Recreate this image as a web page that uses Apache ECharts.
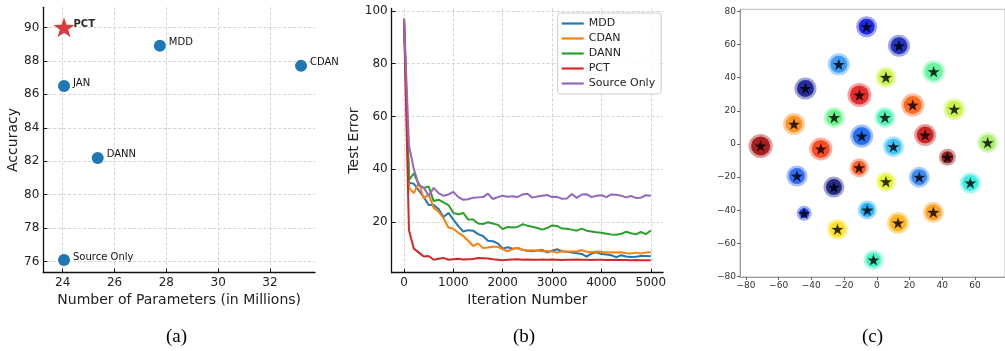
<!DOCTYPE html>
<html>
<head>
<meta charset="utf-8">
<script src="https://cdn.jsdelivr.net/npm/echarts@6/dist/echarts.min.js"></script>
<style>
  html, body { margin: 0; padding: 0; background: #fff; }
  #chart { width: 1005px; height: 351px; }
</style>
</head>
<body>
<div id="chart"></div>
<script>
// (a) accuracy vs model size
const methodNames = ['PCT', 'MDD', 'CDAN', 'JAN', 'DANN', 'Source Only'];
const paramsMillions = [24.05, 27.75, 33.2, 24.05, 25.35, 24.05];
const accuracy = [90.0, 88.9, 87.7, 86.5, 82.2, 76.1];
const paramTicks = [24, 26, 28, 30, 32];
const accTicks = [76, 78, 80, 82, 84, 86, 88, 90];

// (b) test error curves
const iterations = [0, 100, 200, 300, 400, 500, 600, 700, 800, 900, 1000, 1100, 1200, 1300, 1400, 1500,
  1600, 1700, 1800, 1900, 2000, 2100, 2200, 2300, 2400, 2500, 2600, 2700, 2800, 2900, 3000, 3100, 3200,
  3300, 3400, 3500, 3600, 3700, 3800, 3900, 4000, 4100, 4200, 4300, 4400, 4500, 4600, 4700, 4800, 4900, 5000];
const errMDD = [97, 35, 34.5, 32, 29.5, 26.5, 26.5, 25, 22, 23.5, 21, 18.5, 16.5, 17, 16.8, 15.5, 14.8, 13,
  12.8, 12, 10, 10.5, 10, 10.2, 9.6, 9.2, 9, 9.3, 9.5, 8.6, 9.2, 9.8, 9, 8.8, 8.5, 8.3, 8, 7, 8.2, 8.6, 8,
  7.8, 7.5, 6.8, 7.5, 7, 6.8, 6.9, 7.2, 7.2, 7.1];
const errCDAN = [97, 33, 31, 35, 29, 30.5, 25.5, 24, 21.5, 18, 17.5, 16, 14.8, 13, 11, 12, 10.2, 10.4, 10.7,
  10.7, 9.8, 9, 9.8, 10.4, 9.6, 9.3, 9.4, 9.2, 9, 9.1, 8.9, 8.5, 9, 8.8, 8.9, 8.9, 9.5, 8.8, 8.6, 8.9, 8.8,
  8.5, 8.6, 8.5, 8.6, 8.3, 8.2, 8.5, 8.2, 8.5, 8.6];
const errDANN = [97, 36, 38.5, 34, 33, 33.5, 28, 28.5, 27.5, 26.5, 23.5, 23, 23.5, 21, 21, 19.5, 19.3, 20,
  19.5, 19, 17.4, 18.2, 18, 18.2, 19.2, 18.7, 18.3, 17.8, 17.2, 17.8, 18.8, 18.6, 17.6, 17.5, 17.2, 16.8,
  17.6, 16.8, 16.5, 16.2, 16, 15.6, 15.4, 15.3, 15.6, 16.4, 15.8, 15.4, 16.3, 15.5, 16.8];
const errPCT = [96, 17, 10, 8.5, 7, 7.2, 5.8, 6.2, 6.5, 5.8, 6, 6.2, 5.9, 6, 6.1, 6.5, 6.4, 6.3, 6, 5.8, 5.6,
  5.8, 5.9, 6, 5.8, 5.9, 5.8, 5.8, 5.9, 5.8, 5.9, 5.8, 5.7, 5.8, 5.8, 5.9, 5.8, 5.8, 5.7, 5.8, 5.8, 5.7,
  5.7, 5.8, 5.7, 5.7, 5.6, 5.7, 5.6, 5.6, 5.6];
const errSource = [97, 49, 40, 34, 33, 30, 33, 31, 30, 30.5, 31.5, 29.5, 28.5, 28.7, 29.3, 29.4, 29.5, 30.8,
  28.8, 29.5, 30, 29.6, 29.8, 29.5, 30.5, 30.8, 29.3, 29.7, 30, 30.3, 29.5, 29.6, 28.9, 29, 30.7, 29.2,
  30.5, 30.6, 29.5, 30, 30.2, 29.5, 30.5, 30.4, 30, 29.4, 29.9, 29.2, 29.3, 30.2, 30];
const iterTicks = [0, 1000, 2000, 3000, 4000, 5000];
const errTicks = [20, 40, 60, 80, 100];

// (c) t-SNE cluster centres
const clusterX = [-6.2, 13.6, -23.2, 5.6, 34.8, -43.6, -10.6, 22, 47.4, -50.6, -26, 5, 29.6, -71, -34.2,
  -9.2, 10.2, 67.8, 43.2, -48.8, -26.2, -10.8, 5.6, 26, 57.2, -44.4, -5.8, 13, 34.6, -24, -2];
const clusterY = [70.7, 59.2, 48, 40.2, 43.6, 33.5, 29.5, 23.5, 21, 12, 16, 16, 5.4, -1.2, -3, 4.8, -1.6,
  0.8, -8, -19.3, -26, -14.3, -22.7, -20, -23.5, -41.8, -39.8, -47.6, -41.2, -51.4, -69.9];
const clusterColors = ['#0a14e0', '#1020b8', '#2a90f5', '#c8f53a', '#5cf598', '#101890', '#e01818',
  '#ff5a0a', '#c5f53a', '#ff8a10', '#5ef580', '#44f5b4', '#c81010', '#a00808', '#ff3a10', '#1060f0',
  '#30c0f8', '#a0f060', '#8a0a0a', '#2060f8', '#101880', '#ff5010', '#e4f51c', '#2880f0', '#28ecdc',
  '#1030f0', '#10a8f8', '#ffb008', '#ff9810', '#ffe010', '#40f5c0'];
const clusterSize = [17, 18, 18, 17, 19, 18, 20, 19, 18, 18, 17, 17, 18, 20, 19, 19, 17, 17, 13, 17, 17, 15,
  16, 17, 17, 11, 15, 18, 17, 17, 16];
const tsneXTicks = [-80, -60, -40, -20, 0, 20, 40, 60];
const tsneYTicks = [-80, -60, -40, -20, 0, 20, 40, 60, 80];

const STAR = 'path://M0,-10 L2.35,-3.24 L9.51,-3.09 L3.8,1.24 L5.88,8.09 L0,4 L-5.88,8.09 L-3.8,1.24 L-9.51,-3.09 L-2.35,-3.24 Z';
const LEGEND_LINE = 'path://M0,0 L22,0 L22,2.2 L0,2.2 Z';
const FONT = 'DejaVu Sans';
const dash = { color: '#c8c8c8', type: [3, 2], width: 0.8 };

function axisIn(ticks, extra) {
  return Object.assign({
    type: 'value',
    axisLine: { show: true, onZero: false, lineStyle: { color: '#111', width: 1.3 } },
    axisTick: { show: true, inside: true, length: 4, customValues: ticks, lineStyle: { color: '#111' } },
    axisLabel: { customValues: ticks, fontFamily: FONT, fontSize: 12, color: '#222', margin: 4, formatter: v => String(v) },
    splitLine: { show: true, lineStyle: dash },
    nameLocation: 'middle',
    nameTextStyle: { fontFamily: FONT, fontSize: 14, color: '#222' }
  }, extra);
}

const minusFmt = v => String(v).replace('-', '\u2212');
function axisTsne(ticks, extra) {
  return Object.assign({
    type: 'value',
    axisLine: { show: true, onZero: false, lineStyle: { color: '#999', width: 1 } },
    axisTick: { show: true, inside: false, length: 3, customValues: ticks, lineStyle: { color: '#666' } },
    axisLabel: { customValues: ticks, fontFamily: FONT, fontSize: 9, color: '#333', margin: 4, formatter: minusFmt },
    splitLine: { show: false }
  }, extra);
}

const accPoints = methodNames.map((n, i) => ({ name: n, value: [paramsMillions[i], accuracy[i]] }));
const tsneData = clusterX.map((x, i) => ({ value: [x, clusterY[i], clusterSize[i]], itemStyle: { color: clusterColors[i] } }));
const iterPairs = arr => iterations.map((it, i) => [it, arr[i]]);

const curves = [
  ['MDD', errMDD, '#1f77b4'],
  ['CDAN', errCDAN, '#ff7f0e'],
  ['DANN', errDANN, '#2ca02c'],
  ['PCT', errPCT, '#d62728'],
  ['Source Only', errSource, '#9467bd']
];

const chart = echarts.init(document.getElementById('chart'));
chart.setOption({
  animation: false,
  textStyle: { fontFamily: FONT },
  grid: [
    { left: 43.3, top: 7.3, width: 271.7, height: 265.4 },
    { left: 391.7, top: 8.4, width: 271.4, height: 264.3 },
    { left: 740, top: 9.3, width: 270, height: 267.7, show: true, borderColor: '#bbb', borderWidth: 1 }
  ],
  xAxis: [
    axisIn(paramTicks, { gridIndex: 0, min: 23.25, max: 33.74, name: 'Number of Parameters (in Millions)', nameGap: 17 }),
    axisIn(iterTicks, { gridIndex: 1, min: -250, max: 5250, name: 'Iteration Number', nameGap: 17 }),
    axisTsne(tsneXTicks, { gridIndex: 2, min: -83.6, max: 78.4 })
  ],
  yAxis: [
    axisIn(accTicks, { gridIndex: 0, min: 75.34, max: 91.2, name: 'Accuracy', nameGap: 22 }),
    axisIn(errTicks, { gridIndex: 1, min: 0.9, max: 100.9, name: 'Test Error', nameGap: 29 }),
    axisTsne(tsneYTicks, { gridIndex: 2, min: -80.2, max: 81.2 })
  ],
  legend: {
    data: curves.map(c => ({ name: c[0], icon: LEGEND_LINE, itemStyle: { color: c[2] } })),
    orient: 'vertical',
    left: 557.7,
    top: 13,
    itemWidth: 22,
    itemHeight: 12,
    itemGap: 2,
    symbolKeepAspect: true,
    padding: [4, 6, 4, 4],
    borderColor: '#ccc',
    borderWidth: 1,
    borderRadius: 3,
    backgroundColor: 'rgba(255,255,255,0.85)',
    textStyle: { fontFamily: FONT, fontSize: 11, color: '#222', lineHeight: 13 }
  },
  graphic: [
    { type: 'text', left: 166, top: 328, style: { text: '(a)', font: '19px "Liberation Serif"', fill: '#000' } },
    { type: 'text', left: 513, top: 328, style: { text: '(b)', font: '19px "Liberation Serif"', fill: '#000' } },
    { type: 'text', left: 862, top: 328, style: { text: '(c)', font: '19px "Liberation Serif"', fill: '#000' } }
  ],
  series: [
    {
      type: 'scatter', xAxisIndex: 0, yAxisIndex: 0,
      data: accPoints.slice(1),
      symbol: 'circle', symbolSize: 12,
      itemStyle: { color: '#1f77b4', opacity: 1 },
      label: { show: true, position: 'right', distance: 3, offset: [0, -3], formatter: '{b}', fontFamily: FONT, fontSize: 10, color: '#111' }
    },
    {
      type: 'scatter', xAxisIndex: 0, yAxisIndex: 0,
      data: accPoints.slice(0, 1),
      symbol: STAR, symbolKeepAspect: true, symbolSize: 21,
      itemStyle: { color: '#d62728', opacity: 0.9 },
      label: { show: true, position: 'right', distance: -1, offset: [0, -3], formatter: '{b}', fontFamily: FONT, fontSize: 10, fontWeight: 'bold', color: '#111' },
      z: 3
    },
    ...curves.map(c => ({
      name: c[0], type: 'line', xAxisIndex: 1, yAxisIndex: 1,
      data: iterPairs(c[1]),
      symbol: 'none', showSymbol: false,
      lineStyle: { color: c[2], width: 2 },
      itemStyle: { color: c[2] }
    })),
    {
      type: 'scatter', xAxisIndex: 2, yAxisIndex: 2, silent: true,
      data: tsneData,
      symbolSize: v => v[2] + 4,
      itemStyle: { opacity: 0.4 }
    },
    {
      type: 'scatter', xAxisIndex: 2, yAxisIndex: 2, silent: true,
      data: tsneData,
      symbolSize: v => v[2] - 1,
      itemStyle: { opacity: 0.85 }
    },
    {
      type: 'scatter', xAxisIndex: 2, yAxisIndex: 2, silent: true,
      data: clusterX.map((x, i) => [x, clusterY[i]]),
      symbol: STAR, symbolKeepAspect: true, symbolSize: 12,
      itemStyle: { color: '#000' }, z: 4
    }
  ]
});
</script>
</body>
</html>
